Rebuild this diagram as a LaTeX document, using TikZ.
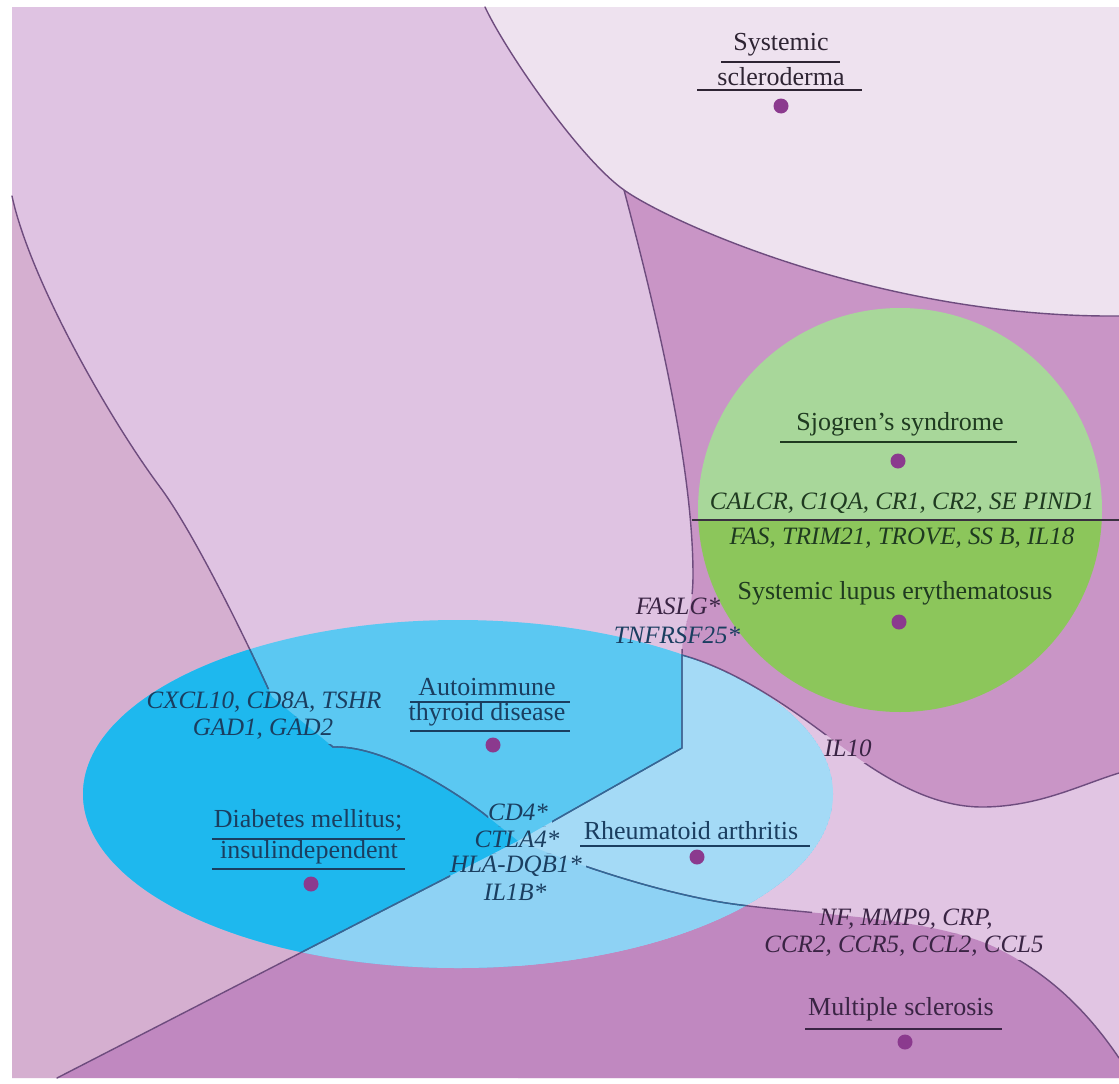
\documentclass[tikz,border=0pt]{standalone}
\usepackage{fontspec}
\setmainfont{Liberation Serif}
\definecolor{cThy}{HTML}{DFC3E2}
\definecolor{cDia}{HTML}{D5AFD0}
\definecolor{cScl}{HTML}{EEE2EF}
\definecolor{cSjo}{HTML}{C995C6}
\definecolor{cRhe}{HTML}{E1C5E3}
\definecolor{cMS}{HTML}{C088C0}
\definecolor{bThy}{HTML}{5BC8F2}
\definecolor{bDia}{HTML}{1EB8EE}
\definecolor{bRhe}{HTML}{A4DAF6}
\definecolor{bMS}{HTML}{8ED2F4}
\definecolor{gTop}{HTML}{A8D79A}
\definecolor{gBot}{HTML}{8CC65B}
\definecolor{lineP}{HTML}{6E4C7E}
\definecolor{lineB}{HTML}{2F6A98}
\definecolor{lineD}{HTML}{3A3040}
\definecolor{dotc}{HTML}{8B3A8E}
\definecolor{tPur}{HTML}{3A2444}
\definecolor{tNavy}{HTML}{1A3E60}
\definecolor{tGreen}{HTML}{1F3A20}
\definecolor{tDark}{HTML}{2E2433}
\begin{document}
\begin{tikzpicture}[x=1pt,y=-1pt]
\tikzset{
  segL/.style={insert path={.. controls (30,280) and (110,420) .. (160,487) .. controls (195,534) and (250,648) .. (272,697)}},
  segGAD/.style={insert path={.. controls (380,745) and (445,785) .. (483,813)}},
  segT/.style={insert path={.. controls (659,322) and (693,470) .. (693,575) .. controls (693,615) and (682,625) .. (682,655)}},
  segIL/.style={insert path={.. controls (730,668) and (780,700) .. (830,738) .. controls (880,776) and (930,808) .. (985,807) .. controls (1040,806) and (1080,785) .. (1119,773)}},
  segSa/.style={insert path={.. controls (505,50) and (579,158) .. (624,190)}},
  segSb/.style={insert path={.. controls (669,222) and (880,318) .. (1119,316)}},
  segRB/.style={insert path={.. controls (560,858) and (640,888) .. (720,902) .. controls (800,915) and (920,915) .. (990,945) .. controls (1050,972) and (1090,1015) .. (1119,1058)}},
  cellDia/.style={insert path={(12,196) [segL] -- (333,747) [segGAD] -- (518,841) -- (57,1078) -- (12,1078) -- cycle}},
  cellSjo/.style={insert path={(624,190) [segT] [segIL] -- (1119,7) -- (624,7) -- cycle}},
  cellRhe/.style={insert path={(518,841) -- (682,748) -- (682,655) [segIL] -- (1119,1078) -- (518,1078) -- cycle}},
  cellMS/.style={insert path={(57,1078) -- (518,841) [segRB] -- (1119,1078) -- cycle}},
  cellScl/.style={insert path={(485,7) [segSa] [segSb] -- (1119,7) -- cycle}},
  holes/.style={insert path={
    (141,689) -- (141,716) -- (387,716) -- (387,689) -- cycle
    (189,716) -- (189,744) -- (338,744) -- (338,716) -- cycle
    (634,594) -- (634,621) -- (724,621) -- (724,594) -- cycle
    (610,621) -- (610,649) -- (744,649) -- (744,621) -- cycle
    (488,799) -- (488,826) -- (552,826) -- (552,799) -- cycle
    (474,826) -- (474,853) -- (562,853) -- (562,826) -- cycle
    (450,853) -- (450,880) -- (586,880) -- (586,853) -- cycle
    (484,880) -- (484,906) -- (548,906) -- (548,880) -- cycle
    (820,735) -- (820,763) -- (878,763) -- (878,735) -- cycle
    (812,906) -- (812,933) -- (1002,933) -- (1002,906) -- cycle
    (758,933) -- (758,960) -- (1048,960) -- (1048,933) -- cycle}},
  allbounds/.style={insert path={
    (12,196) [segL] -- (333,747) [segGAD] -- (518,841)
    (624,190) [segT] -- (682,748) -- (518,841)
    (682,655) [segIL]
    (485,7) [segSa] [segSb]
    (57,1078) -- (518,841) [segRB]}},
  bline/.style={line width=1.4pt, line join=round, line cap=round},
  lbl/.style={font=\fontsize{26}{30}\selectfont, inner sep=0pt},
  gene/.style={font=\fontsize{25}{30}\selectfont\itshape, inner sep=0pt},
  ul/.style={line width=2pt},
  dotn/.style={circle, fill=dotc, minimum size=15pt, inner sep=0pt}
}
\useasboundingbox (0,0) rectangle (1119,1084);
\fill[white] (0,0) rectangle (1119,1084);
% cells
\fill[cThy] (12,7) rectangle (1119,1078);
\fill[cSjo] [cellSjo];
\fill[cScl] [cellScl];
\fill[cDia] [cellDia];
\fill[cRhe] [cellRhe];
\fill[cMS] [cellMS];
% ellipse
\begin{scope}
  \clip (458,794) ellipse [x radius=375, y radius=174];
  \fill[bThy] (458,794) ellipse [x radius=375, y radius=174];
  \fill[bDia] [cellDia];
  \fill[bRhe] [cellRhe];
  \fill[bMS] [cellMS];
  \fill[cSjo] [cellSjo];
\end{scope}
% green circle
\begin{scope}
  \clip (900,510) circle [radius=202];
  \fill[gTop] (690,300) rectangle (1119,520);
  \fill[gBot] (690,520) rectangle (1119,720);
\end{scope}
% boundaries
\begin{scope}
  \clip (0,0) -- (1119,0) -- (1119,1084) -- (0,1084) -- cycle [holes];
  \draw[bline, lineP] [allbounds];
  \draw[line width=1.5pt, lineD] (692,520) -- (1119,520);
  \begin{scope}
    \clip (458,794) ellipse [x radius=375, y radius=174];
    \draw[bline, lineB] [allbounds];
  \end{scope}
\end{scope}
% labels
\node[lbl, text=tDark] (tSys1) at (781,45) {Systemic};
\node[lbl, text=tDark] (tSys2) at (781,77) {scleroderma};
\draw[ul, tDark] (721,62) -- (840,62);
\draw[ul, tDark] (697,90) -- (862,90);
\node[dotn] (dSys) at (781,106) {};

\node[lbl, text=tGreen] (tSjo) at (900,424) {Sjogren’s syndrome};
\draw[ul, tGreen] (780,442) -- (1017,442);
\node[dotn] (dSjo) at (898,461) {};
\node[gene, text=tGreen] (gSjo1) at (902,503) {CALCR, C1QA, CR1, CR2, SE PIND1};
\node[gene, text=tGreen] (gSjo2) at (902,538) {FAS, TRIM21, TROVE, SS B, IL18};
\node[lbl, text=tGreen] (tSle) at (895,593) {Systemic lupus erythematosus};
\node[dotn] (dSle) at (899,622) {};

\node[gene, text=tPur] (gFas) at (678,606) {FASLG*};
\node[gene, text=tNavy] (gTnf) at (677,635) {TNFRSF25*};

\node[gene, text=tNavy] (gCx1) at (264,702) {CXCL10, CD8A, TSHR};
\node[gene, text=tNavy] (gCx2) at (263,729) {GAD1, GAD2};

\node[lbl, text=tNavy] (tAit1) at (487,687) {Autoimmune};
\draw[ul, tNavy] (410,702) -- (570,702);
\node[lbl, text=tNavy] (tAit2) at (487,714) {thyroid disease};
\draw[ul, tNavy] (410,731) -- (570,731);
\node[dotn] (dAit) at (493,745) {};

\node[lbl, text=tNavy] (tDia1) at (308,820) {Diabetes mellitus;};
\draw[ul, tNavy] (212,839) -- (405,839);
\node[lbl, text=tNavy] (tDia2) at (309,852) {insulindependent};
\draw[ul, tNavy] (212,869) -- (405,869);
\node[dotn] (dDia) at (311,884) {};

\node[gene, text=tNavy] (gC1) at (518,812) {CD4*};
\node[gene, text=tNavy] (gC2) at (517,839) {CTLA4*};
\node[gene, text=tNavy] (gC3) at (516,866) {HLA-DQB1*};
\node[gene, text=tNavy] (gC4) at (515,892) {IL1B*};

\node[lbl, text=tNavy] (tRa) at (691,831) {Rheumatoid arthritis};
\draw[ul, tNavy] (580,846) -- (810,846);
\node[dotn] (dRa) at (697,857) {};

\node[gene, text=tPur] (gIl) at (848,748) {IL10};

\node[gene, text=tPur] (gMs1) at (906,919) {NF, MMP9, CRP,};
\node[gene, text=tPur] (gMs2) at (904,946) {CCR2, CCR5, CCL2, CCL5};
\node[lbl, text=tPur] (tMs) at (901,1009) {Multiple sclerosis};
\draw[ul, tPur] (805,1029) -- (1002,1029);
\node[dotn] (dMs) at (905,1042) {};
\end{tikzpicture}
\end{document}
